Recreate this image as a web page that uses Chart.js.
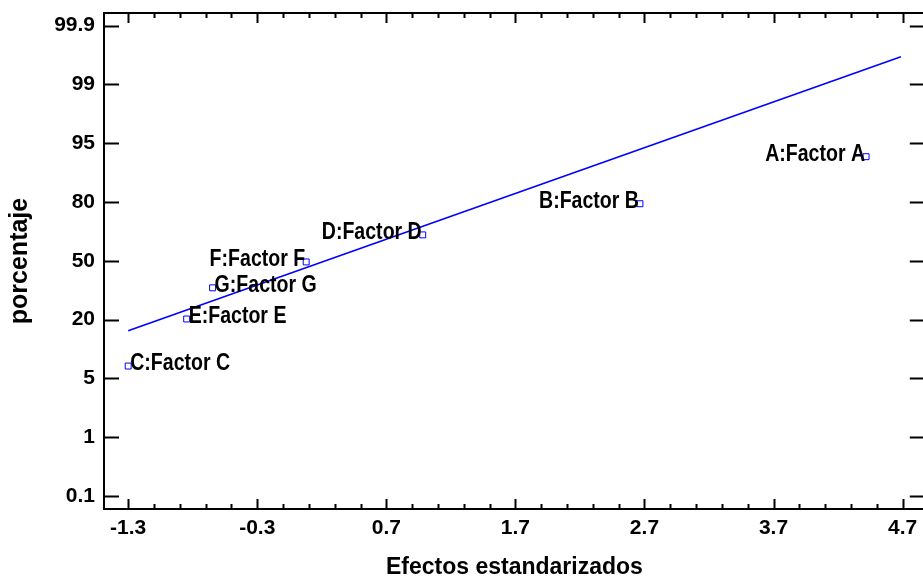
<!DOCTYPE html>
<html>
<head>
<meta charset="utf-8">
<script src="https://cdn.jsdelivr.net/npm/chart.js@4.4.1/dist/chart.umd.min.js"></script>
<style>
  html, body { margin: 0; padding: 0; background: #fff; overflow: hidden; }
  canvas { display: block; }
</style>
</head>
<body>
<canvas id="myChart" width="930" height="582"></canvas>
<script>
// standardized effects (x) and their position on the probability axis (y, in tick steps)
const efectos = ['C:Factor C', 'E:Factor E', 'G:Factor G', 'F:Factor F', 'D:Factor D', 'B:Factor B', 'A:Factor A'];
const efectoX = [-1.30, -0.847, -0.646, 0.079, 0.982, 2.665, 4.417];
const efectoY = [2.21, 3.01, 3.54, 3.98, 4.44, 4.97, 5.77];

// fitted reference line
const lineaX = [-1.30, 4.687];
const lineaY = [2.81, 7.47];

// axis ticks
const xTicks = [-1.3, -0.3, 0.7, 1.7, 2.7, 3.7, 4.7];
const yTickLabels = ['0.1', '1', '5', '20', '50', '80', '95', '99', '99.9'];

const sans = "'Liberation Sans', Arial, sans-serif";
const blue = 'rgb(0,0,255)';

// labels on the left side of their marker, the rest go to the right
const labelLeft = ['A:Factor A', 'B:Factor B', 'D:Factor D', 'F:Factor F'];

const ctx = document.getElementById('myChart');

// frame with inward tick marks, and the factor names beside the points
const framePlugin = {
  id: 'frame',
  afterDatasetsDraw(chart) {
    const c = chart.ctx;
    const a = chart.chartArea;
    const xs = chart.scales.x, ys = chart.scales.y;
    c.save();
    c.strokeStyle = '#000';
    c.lineWidth = 2;
    c.strokeRect(a.left, a.top, a.right - a.left, a.bottom - a.top);
    c.beginPath();
    yTickLabels.forEach((l, i) => {
      const y = Math.round(ys.getPixelForValue(i)) + 0.5;
      c.moveTo(a.left, y); c.lineTo(a.left + 15, y);
      c.moveTo(a.right, y); c.lineTo(a.right - 15, y);
    });
    for (let k = 0; k <= 30; k++) {
      const v = xTicks[0] + k * 0.2;
      const x = Math.round(xs.getPixelForValue(v)) + 0.5;
      const len = k % 5 === 0 ? 10 : 5;
      c.moveTo(x, a.bottom); c.lineTo(x, a.bottom - len);
      c.moveTo(x, a.top); c.lineTo(x, a.top + len);
    }
    c.stroke();

    // narrow bold lettering: squeeze the regular face horizontally
    const sx = 0.85;
    c.fillStyle = '#000';
    c.font = 'bold 23px ' + sans;
    c.textBaseline = 'middle';
    efectos.forEach((name, i) => {
      const px = xs.getPixelForValue(efectoX[i]);
      const py = ys.getPixelForValue(efectoY[i]) - 2;
      c.save();
      c.scale(sx, 1);
      if (labelLeft.includes(name)) {
        c.textAlign = 'right';
        c.fillText(name, (px - 1) / sx, py);
      } else {
        c.textAlign = 'left';
        c.fillText(name, (px + 2) / sx, py);
      }
      c.restore();
    });
    c.restore();
  }
};

new Chart(ctx, {
  type: 'scatter',
  data: {
    datasets: [
      {
        type: 'line',
        data: lineaX.map((x, i) => ({ x: x, y: lineaY[i] })),
        borderColor: blue,
        borderWidth: 1.6,
        pointRadius: 0,
        fill: false
      },
      {
        data: efectoX.map((x, i) => ({ x: x, y: efectoY[i] })),
        pointStyle: 'rect',
        pointRadius: 4.2,
        borderColor: blue,
        borderWidth: 1,
        backgroundColor: '#fff'
      }
    ]
  },
  options: {
    responsive: false,
    animation: false,
    layout: { padding: { top: 13, right: 2, left: 0, bottom: 0 } },
    plugins: { legend: { display: false }, tooltip: { enabled: false } },
    scales: {
      x: {
        type: 'linear',
        min: -1.4875,
        max: 4.872,
        afterBuildTicks: s => { s.ticks = xTicks.map(v => ({ value: v })); },
        afterFit: s => { s.height = 73; s.paddingLeft = 0; s.paddingRight = 0; },
        grid: { display: false, drawTicks: false },
        border: { display: false },
        ticks: {
          padding: 7,
          color: '#000',
          font: { family: sans, size: 21, weight: 'bold' },
          callback: v => v.toFixed(1)
        },
        title: {
          display: true,
          text: 'Efectos estandarizados',
          color: '#000',
          padding: { top: 0, bottom: 1 },
          font: { family: sans, size: 23, weight: 'bold' }
        }
      },
      y: {
        type: 'linear',
        min: -0.221,
        max: 8.213,
        afterBuildTicks: s => { s.ticks = yTickLabels.map((l, i) => ({ value: i })); },
        afterFit: s => { s.width = 104; s.paddingTop = 0; s.paddingBottom = 0; },
        grid: { display: false, drawTicks: false },
        border: { display: false },
        ticks: {
          padding: 9,
          color: '#000',
          font: { family: sans, size: 21, weight: 'bold' },
          callback: v => yTickLabels[Math.round(v)]
        },
        title: {
          display: true,
          text: 'porcentaje',
          color: '#000',
          padding: { top: 5, bottom: 0 },
          font: { family: sans, size: 25, weight: 'bold' }
        }
      }
    }
  },
  plugins: [framePlugin]
});
</script>
</body>
</html>
